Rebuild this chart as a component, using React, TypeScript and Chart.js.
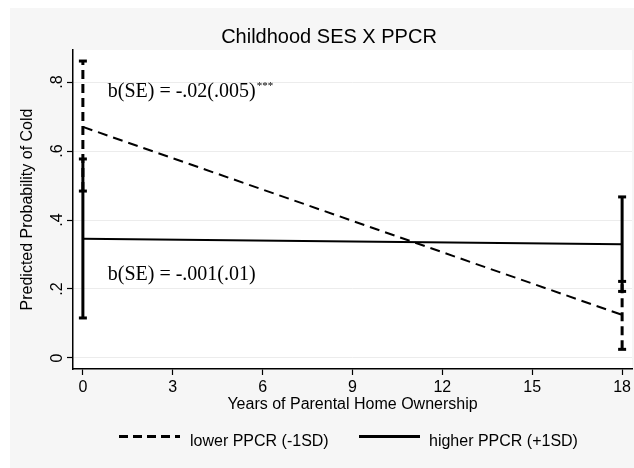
import { useEffect, useRef } from 'react';
import { Chart, registerables } from 'chart.js';

Chart.register(...registerables);

// ---- data ----
const xYears = [0, 18];
const lowerMean = [0.67, 0.125];
const lowerLow = [0.484, 0.025];
const lowerHigh = [0.861, 0.222];
const higherMean = [0.346, 0.33];
const higherLow = [0.116, 0.193];
const higherHigh = [0.577, 0.467];

const xTicks = [0, 3, 6, 9, 12, 15, 18];
const xTickLabels = ['0', '3', '6', '9', '12', '15', '18'];
const yTicks = [0, 0.2, 0.4, 0.6, 0.8];
const yTickLabels = ['0', '.2', '.4', '.6', '.8'];

const seriesLabels = ['lower PPCR (-1SD)', 'higher PPCR (+1SD)'];
const chartTitle = 'Childhood SES X PPCR';
const xTitle = 'Years of Parental Home Ownership';
const yTitle = 'Predicted Probability of Cold';
const annotationTexts = ['b(SE) = -.02(.005)', 'b(SE) = -.001(.01)'];
const annotationStars = ['***', ''];
const annotationX = [0.83, 0.83];
const annotationY = [0.757, 0.226];

const SANS = '"Liberation Sans", Arial, Helvetica, sans-serif';
const SERIF = '"Liberation Serif", "Times New Roman", serif';

const meanDash = [10, 6];
const barDash = [9, 5];

function errorBar(x: number, lo: number, hi: number, dashed: boolean) {
  return {
    type: 'line' as const,
    data: [
      { x, y: lo },
      { x, y: hi },
    ],
    borderColor: '#000',
    borderWidth: 3,
    borderDash: dashed ? barDash : [],
    pointStyle: 'line' as const,
    pointRadius: 4,
    pointBorderWidth: 3,
    pointBorderColor: '#000',
    pointBackgroundColor: '#000',
    pointHoverRadius: 4,
    fill: false,
  };
}

const decor = {
  id: 'decor',
  beforeDraw(chart: any) {
    const { ctx, chartArea } = chart;
    const { left, top, right, bottom } = chartArea;
    ctx.save();
    ctx.fillStyle = '#ffffff';
    ctx.fillRect(0, 0, chart.width, chart.height);
    ctx.fillStyle = '#f6f6f6';
    ctx.fillRect(10, 8, chart.width - 10, chart.height - 8);
    ctx.fillStyle = '#ffffff';
    ctx.fillRect(left, top, right - left, bottom - top);
    ctx.restore();
  },
  afterDraw(chart: any) {
    const { ctx, chartArea } = chart;
    const { left, top, right, bottom } = chartArea;
    const xs = chart.scales.x;
    const ys = chart.scales.y;
    ctx.save();
    ctx.fillStyle = '#000';

    // title
    ctx.font = `20px ${SANS}`;
    ctx.textAlign = 'center';
    ctx.textBaseline = 'alphabetic';
    ctx.fillText(chartTitle, 329, 43);

    // x tick labels
    ctx.font = `16px ${SANS}`;
    xTicks.forEach((v, i) => {
      ctx.fillText(xTickLabels[i], xs.getPixelForValue(v), 392);
    });

    // y tick labels (rotated)
    yTicks.forEach((v, i) => {
      const py = ys.getPixelForValue(v);
      ctx.save();
      ctx.translate(62, py);
      ctx.rotate(-Math.PI / 2);
      ctx.textAlign = 'center';
      ctx.textBaseline = 'alphabetic';
      ctx.fillText(yTickLabels[i], 0, 0);
      ctx.restore();
    });

    // y title
    ctx.save();
    ctx.translate(32, (top + bottom) / 2);
    ctx.rotate(-Math.PI / 2);
    ctx.textAlign = 'center';
    ctx.textBaseline = 'alphabetic';
    ctx.fillText(yTitle, 0, 0);
    ctx.restore();

    // x title
    ctx.textAlign = 'center';
    ctx.fillText(xTitle, (left + right) / 2, 409);

    // annotations
    annotationTexts.forEach((t, i) => {
      const ax = xs.getPixelForValue(annotationX[i]);
      const ay = ys.getPixelForValue(annotationY[i]);
      ctx.font = `20px ${SERIF}`;
      ctx.textAlign = 'left';
      ctx.fillText(t, ax, ay);
      if (annotationStars[i]) {
        const w = ctx.measureText(t).width;
        ctx.font = `11px ${SERIF}`;
        ctx.fillText(annotationStars[i], ax + w + 1, ay - 8);
      }
    });

    // legend
    const ly = 436.5;
    ctx.strokeStyle = '#000';
    ctx.lineWidth = 3;
    ctx.setLineDash(barDash);
    ctx.beginPath();
    ctx.moveTo(119, ly);
    ctx.lineTo(180, ly);
    ctx.stroke();
    ctx.setLineDash([]);
    ctx.beginPath();
    ctx.moveTo(359, ly);
    ctx.lineTo(420, ly);
    ctx.stroke();
    ctx.font = `16px ${SANS}`;
    ctx.textAlign = 'left';
    ctx.fillText(seriesLabels[0], 190, 445.5);
    ctx.fillText(seriesLabels[1], 429, 445.5);

    ctx.restore();
  },
};

export default function App() {
  const ref = useRef<HTMLCanvasElement | null>(null);

  useEffect(() => {
    if (!ref.current) return;
    const chart = new Chart(ref.current, {
      type: 'line',
      data: {
        datasets: [
          {
            label: seriesLabels[0],
            data: xYears.map((x, i) => ({ x, y: lowerMean[i] })),
            borderColor: '#000',
            borderWidth: 2,
            borderDash: meanDash,
            pointRadius: 0,
            fill: false,
          },
          {
            label: seriesLabels[1],
            data: xYears.map((x, i) => ({ x, y: higherMean[i] })),
            borderColor: '#000',
            borderWidth: 2,
            pointRadius: 0,
            fill: false,
          },
          ...xYears.map((x, i) => errorBar(x, lowerLow[i], lowerHigh[i], true)),
          ...xYears.map((x, i) => errorBar(x, higherLow[i], higherHigh[i], false)),
        ] as any,
      },
      options: {
        animation: false,
        responsive: false,
        devicePixelRatio: 1,
        events: [],
        layout: { autoPadding: false, padding: { top: 50, right: 2, left: 0, bottom: 0 } },
        plugins: {
          legend: { display: false },
          title: { display: false },
          tooltip: { enabled: false },
        },
        scales: {
          x: {
            type: 'linear',
            min: -0.33,
            max: 18.33,
            afterBuildTicks: (s: any) => {
              s.ticks = xTicks.map((v) => ({ value: v }));
            },
            afterFit: (s: any) => {
              s.height = 99;
              s.paddingLeft = 0;
              s.paddingRight = 0;
            },
            grid: {
              display: true,
              drawOnChartArea: false,
              drawTicks: true,
              tickLength: 6,
              tickColor: '#000',
              tickWidth: 1.2,
            },
            border: { display: true, color: '#000', width: 1.5 },
            ticks: {
              color: 'rgba(0,0,0,0)',
              font: { size: 4 },
              padding: 0,
              maxRotation: 0,
              autoSkip: false,
            },
          },
          y: {
            type: 'linear',
            min: -0.032,
            max: 0.893,
            afterBuildTicks: (s: any) => {
              s.ticks = yTicks.map((v) => ({ value: v }));
            },
            afterFit: (s: any) => {
              s.width = 73;
              s.paddingTop = 0;
              s.paddingBottom = 0;
            },
            grid: {
              color: '#ececec',
              lineWidth: 1,
              drawTicks: true,
              tickLength: 6,
              tickColor: '#000',
              tickWidth: 1.2,
            },
            border: { display: true, color: '#000', width: 1.5 },
            ticks: {
              color: 'rgba(0,0,0,0)',
              font: { size: 4 },
              padding: 0,
            },
          },
        },
      } as any,
      plugins: [decor],
    });
    return () => chart.destroy();
  }, []);

  return (
    <div style={{ position: 'absolute', left: 0, top: 0, width: 634, height: 468 }}>
      <canvas ref={ref} width={634} height={468} style={{ display: 'block' }} />
    </div>
  );
}
